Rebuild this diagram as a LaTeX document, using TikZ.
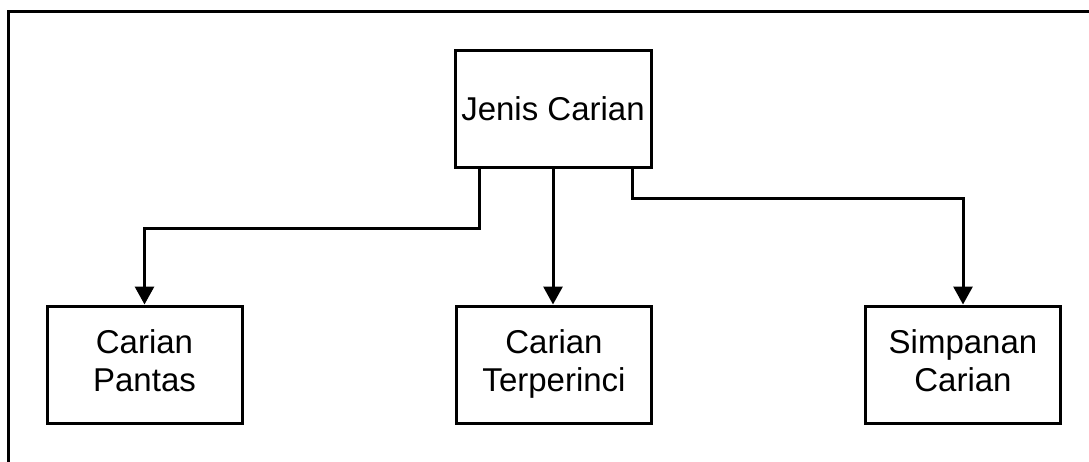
\documentclass[tikz,border=0pt]{standalone}
\usepackage{fontspec}
\setmainfont{Liberation Sans}
\usetikzlibrary{arrows.meta,positioning,calc}
\tikzset{
  basebox/.style={rectangle,draw=black,line width=3pt,align=center,
    font=\fontsize{33}{38}\selectfont,inner sep=0pt},
  topnode/.style={basebox,minimum width=196pt,minimum height=117pt},
  leafnode/.style={basebox,minimum width=195pt,minimum height=117pt},
  arr/.style={-{Triangle[width=19pt,length=18pt]},line width=3pt,color=black}
}

\begin{document}
\begin{tikzpicture}[x=1pt,y=-1pt]
  \useasboundingbox (0,0) rectangle (1089,461);
  %% frame
  \draw[line width=3pt] (8,470) -- (8,11) -- (1095,11);

  %% top
  \node[topnode] (jenis) at (553,108.5) {Jenis Carian};

  %% leaves
  \node[leafnode] (pantas) at (144.5,364.5) {Carian\strut\\Pantas\strut};
  \node[leafnode] (terperinci) at (554,364.5) {Carian\strut\\Terperinci\strut};
  \node[leafnode] (simpanan) at (963,364.5) {Simpanan\strut\\Carian\strut};

  \draw[arr] ([xshift=-74pt]jenis.south) -- ++(0,60) -| (pantas.north);
  \draw[arr] (jenis.south) -- (jenis.south |- terperinci.north);
  \draw[arr] ([xshift=79pt]jenis.south) -- ++(0,30) -| (simpanan.north);
\end{tikzpicture}
\end{document}
